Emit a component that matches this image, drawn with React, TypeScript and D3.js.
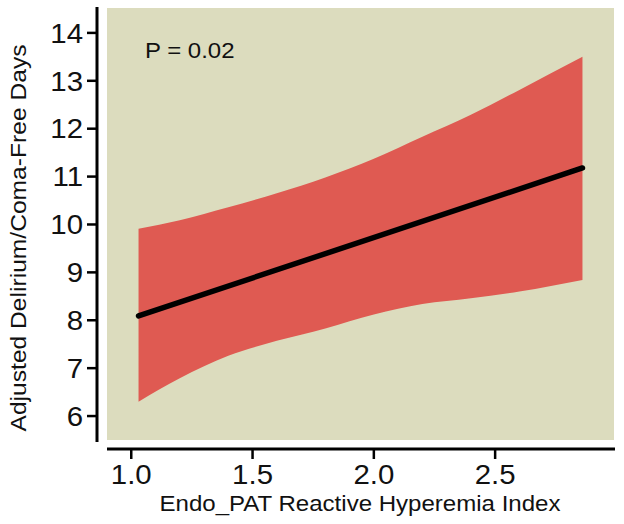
import React from 'react';
import * as d3 from 'd3';

const xTicks = [1.0, 1.5, 2.0, 2.5];
const yTicks = [6, 7, 8, 9, 10, 11, 12, 13, 14];
const bandX = [1.03, 1.2, 1.4, 1.6, 1.8, 2.0, 2.2, 2.4, 2.6, 2.86];
const bandUpper = [9.91, 10.09, 10.36, 10.65, 10.98, 11.37, 11.83, 12.29, 12.81, 13.5];
const bandLower = [6.3, 6.79, 7.26, 7.57, 7.83, 8.12, 8.34, 8.46, 8.6, 8.84];
const fitX = [1.03, 2.86];
const fitY = [8.09, 11.18];
const pLabel = 'P = 0.02';
const xTitle = 'Endo_PAT Reactive Hyperemia Index';
const yTitle = 'Adjusted Delirium/Coma-Free Days';

const FONT = "'Liberation Sans', Arial, Helvetica, sans-serif";
const SX = 1.09;

export default function App() {
  const x = d3.scaleLinear().domain([0.9, 2.99]).range([107, 614]);
  const y = d3.scaleLinear().domain([5.5, 14.52]).range([440, 8]);

  const bandData = bandX.map((v, i) => ({ x: v, lo: bandLower[i], hi: bandUpper[i] }));
  const area = d3
    .area<{ x: number; lo: number; hi: number }>()
    .x((d) => x(d.x))
    .y0((d) => y(d.lo))
    .y1((d) => y(d.hi))
    .curve(d3.curveMonotoneX);
  const line = d3
    .line<number>()
    .x((d) => x(d))
    .y((_, i) => y(fitY[i]));

  const [px0, px1] = x.range();
  const [py1, py0] = y.range();

  return (
    <svg width={624} height={524} style={{ position: 'absolute', left: 0, top: 0, background: '#fff' }} fontFamily={FONT}>
      <rect x={px0} y={py0} width={px1 - px0} height={py1 - py0} fill="#dcdcbe" />
      <path d={area(bandData) || ''} fill="#df5a52" />
      <path d={line(fitX) || ''} fill="none" stroke="#000" strokeWidth={5.5} strokeLinecap="round" />
      <text transform={`translate(145,58) scale(${SX},1)`} fontSize={22} fill="#111">{pLabel}</text>

      {/* y axis */}
      <line x1={97} x2={97} y1={7} y2={442} stroke="#000" strokeWidth={3} />
      {yTicks.map((t) => (
        <g key={t}>
          <line x1={87} x2={97} y1={y(t)} y2={y(t)} stroke="#000" strokeWidth={2.5} />
          <text transform={`translate(83,${y(t)}) scale(${SX},1)`} dy="0.36em" textAnchor="end" fontSize={27} fill="#111">{t}</text>
        </g>
      ))}
      <text transform={`translate(26,238) rotate(-90)`} textAnchor="middle" fontSize={22} fill="#111" textLength={387} lengthAdjust="spacingAndGlyphs">{yTitle}</text>

      {/* x axis */}
      <line x1={107} x2={615} y1={449} y2={449} stroke="#000" strokeWidth={3} />
      {xTicks.map((t) => (
        <g key={t}>
          <line x1={x(t)} x2={x(t)} y1={449} y2={459} stroke="#000" strokeWidth={2.5} />
          <text transform={`translate(${x(t)},484) scale(${SX},1)`} textAnchor="middle" fontSize={27} fill="#111">{d3.format('.1f')(t)}</text>
        </g>
      ))}
      <text x={360} y={511} textAnchor="middle" fontSize={22} fill="#111" textLength={401} lengthAdjust="spacingAndGlyphs">{xTitle}</text>
    </svg>
  );
}
